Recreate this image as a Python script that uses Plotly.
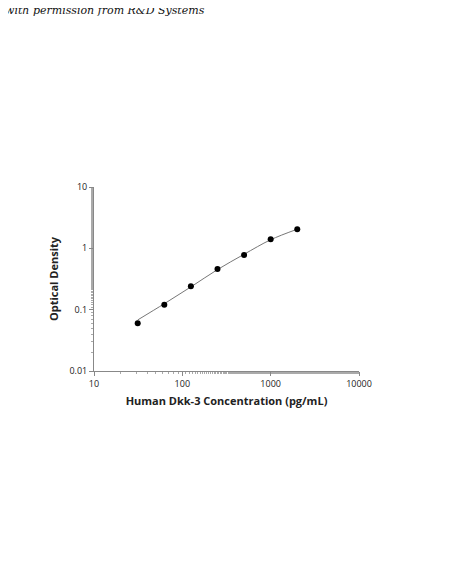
import plotly.graph_objects as go

conc = [31.25, 62.5, 125, 250, 500, 1000, 2000]
od = [0.06, 0.12, 0.24, 0.46, 0.78, 1.4, 2.05]
fit_od = [0.068, 0.125, 0.235, 0.45, 0.8, 1.38, 2.05]
xticks = [10, 100, 1000, 10000]
yticks = [0.01, 0.1, 1, 10]
ytick_text = ["0.01", "0.1", "1", "10"]

fig = go.Figure()
fig.add_trace(go.Scatter(x=conc, y=fit_od, mode="lines", line=dict(color="#777", width=1, shape="spline"), hoverinfo="skip"))
fig.add_trace(go.Scatter(x=conc, y=od, mode="markers", marker=dict(color="black", size=6)))

axcommon = dict(showgrid=False, zeroline=False, showline=True, linecolor="#888", linewidth=1,
                ticks="outside", ticklen=4, tickcolor="#888",
                tickfont=dict(family="Open Sans", size=9, color="#222"),
                minor=dict(ticks="outside", ticklen=2, tickcolor="#aaa", showgrid=False))
fig.update_xaxes(type="log", range=[1, 4], tickvals=xticks, ticktext=[str(v) for v in xticks],
                 title=dict(text="<b>Human Dkk-3 Concentration (pg/mL)</b>", font=dict(family="Open Sans", size=11, color="#222"), standoff=8),
                 **axcommon)
fig.update_yaxes(type="log", range=[-2, 1], tickvals=yticks, ticktext=ytick_text,
                 title=dict(text="<b>Optical Density</b>", font=dict(family="Open Sans", size=11, color="#222"), standoff=8),
                 **axcommon)
fig.add_annotation(text="<i>with permission from R&amp;D Systems</i>", xref="paper", yref="paper",
                   x=-91/265, y=1 + 185/184, xanchor="left", yanchor="top", showarrow=False,
                   font=dict(family="DejaVu Serif", size=11, color="#111"))
fig.update_layout(width=450, height=581, showlegend=False, plot_bgcolor="white", paper_bgcolor="white",
                  margin=dict(l=86, r=99, t=179, b=218))
fig.write_html("out.html")
